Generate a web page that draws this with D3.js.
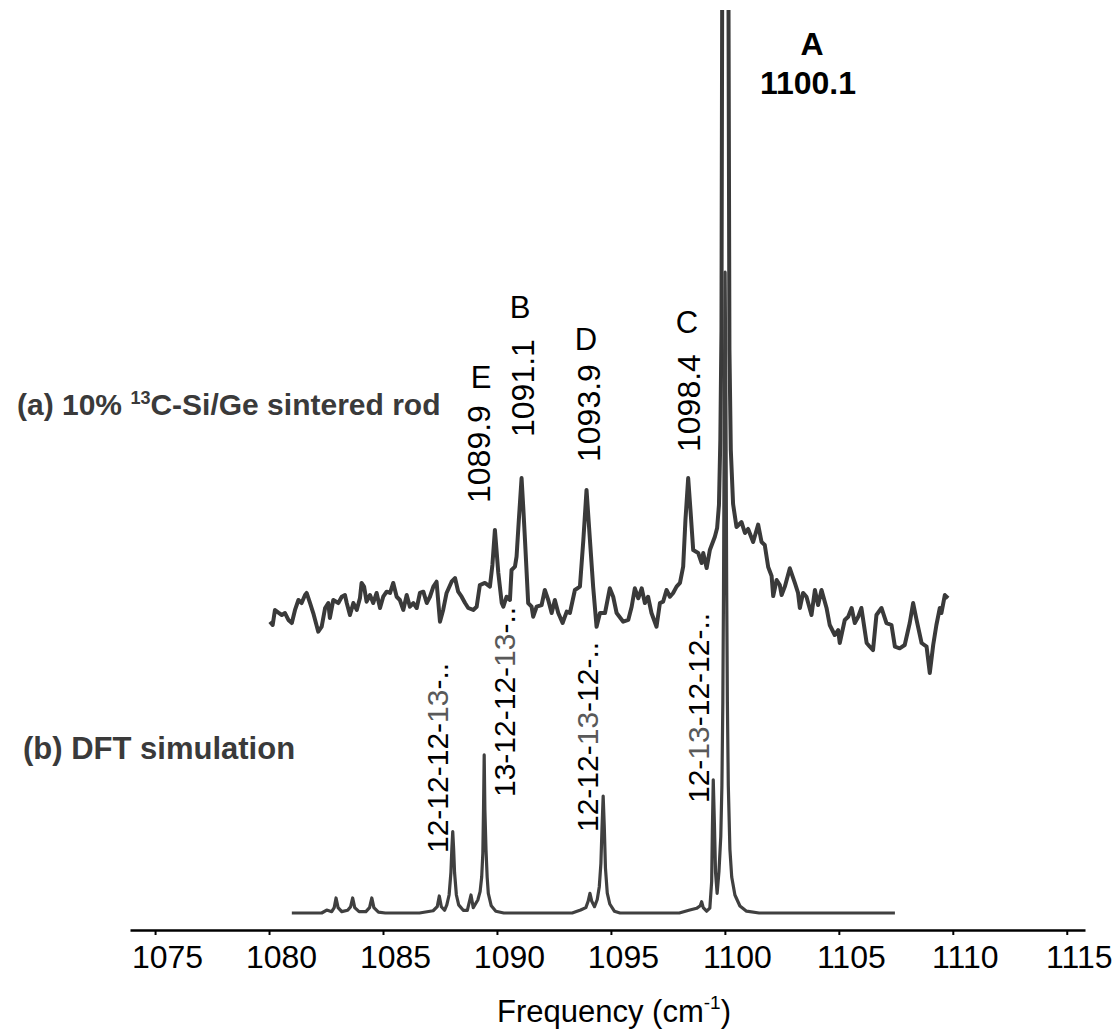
<!DOCTYPE html>
<html><head><meta charset="utf-8">
<script src="https://cdn.jsdelivr.net/npm/d3@7"></script>
<style>body{margin:0;background:#fff} svg{display:block}</style>
</head><body><svg id="chart" width="1113" height="1034"></svg>
<script>
// ---- Data ----
const expFreq = [1080.04,1080.16,1080.26,1080.41,1080.56,1080.70,1080.85,1081.00,1081.14,1081.29,
1081.43,1081.58,1081.65,1081.80,1081.94,1082.16,1082.31,1082.46,1082.60,1082.67,
1082.82,1083.04,1083.19,1083.33,1083.41,1083.55,1083.70,1083.85,1083.99,1084.06,
1084.17,1084.28,1084.43,1084.57,1084.72,1084.87,1085.01,1085.16,1085.31,1085.45,
1085.60,1085.74,1085.89,1086.04,1086.18,1086.33,1086.48,1086.62,1086.77,1086.92,
1087.06,1087.21,1087.35,1087.50,1087.64,1087.79,1088.01,1088.16,1088.30,1088.45,
1088.60,1088.74,1088.96,1089.11,1089.25,1089.47,1089.69,1089.80,1089.91,1090.06,
1090.21,1090.28,1090.42,1090.57,1090.64,1090.79,1090.86,1090.96,1091.08,1091.16,
1091.23,1091.37,1091.52,1091.59,1091.74,1091.96,1092.10,1092.25,1092.40,1092.54,
1092.69,1092.88,1093.06,1093.20,1093.42,1093.64,1093.79,1093.93,1094.08,1094.22,
1094.37,1094.52,1094.74,1094.95,1095.10,1095.25,1095.54,1095.76,1095.91,1096.05,
1096.20,1096.35,1096.49,1096.63,1096.78,1097.00,1097.15,1097.29,1097.44,1097.59,
1097.73,1097.88,1098.03,1098.17,1098.27,1098.39,1098.49,1098.61,1098.83,1098.98,
1099.05,1099.20,1099.34,1099.56,1099.66,1099.74,1099.80,1099.85,1099.88,1099.90,
1100.01,1100.13,1100.16,1100.20,1100.26,1100.36,1100.51,1100.73,1100.88,1101.02,
1101.24,1101.46,1101.61,1101.75,1101.90,1102.05,1102.12,1102.27,1102.41,1102.49,
1102.63,1102.85,1103.07,1103.21,1103.29,1103.43,1103.58,1103.80,1103.95,1104.09,
1104.24,1104.46,1104.60,1104.82,1104.97,1105.04,1105.26,1105.41,1105.56,1105.70,
1105.85,1105.99,1106.22,1106.36,1106.50,1106.65,1106.87,1107.09,1107.31,1107.46,
1107.67,1107.89,1108.11,1108.26,1108.41,1108.63,1108.85,1108.99,1109.14,1109.28,
1109.43,1109.50,1109.65,1109.79];
const expInt = [32.37,32.0,33.67,33.37,33.11,33.33,32.56,32.22,33.67,34.78,
34.44,35.33,35.56,34.44,33.33,31.26,31.81,33.89,34.44,32.78,
34.78,34.44,35.14,35.33,34.44,33.11,34.44,33.67,35.0,36.67,
36.26,34.59,35.33,34.44,35.56,33.89,35.14,35.7,35.56,36.67,
35.14,34.78,33.67,35.33,34.03,34.44,33.89,35.56,35.7,34.44,
35.14,36.26,36.81,32.37,33.67,35.56,36.81,37.22,35.7,35.14,
34.44,33.89,33.67,34.03,36.44,36.67,36.26,38.67,42.56,37.78,
34.44,34.03,35.14,34.78,38.11,38.48,39.59,43.67,48.33,44.78,
41.44,34.44,34.03,32.92,34.03,34.22,35.89,34.78,33.33,34.78,
33.33,32.22,33.48,33.33,35.89,36.26,41.44,47.0,41.44,36.26,
31.81,33.33,33.33,36.08,35.14,33.33,32.37,32.56,34.03,36.08,
34.97,36.08,34.44,35.14,33.33,31.81,34.44,34.59,35.89,35.14,
35.56,36.26,36.67,38.48,43.67,48.33,44.78,40.33,40.0,38.89,
40.0,38.33,40.33,41.81,42.78,45.33,52.56,64.78,100,200,
600,200,100,62.56,51.44,45.44,42.89,43.44,42.22,42.67,
41.22,43.16,41.22,40.89,38.44,37.44,35.22,37.0,36.44,35.33,
36.26,38.3,36.67,35.56,33.89,35.56,35.14,33.11,35.89,34.22,
35.89,33.89,32.0,30.89,31.44,30.0,32.56,32.92,33.89,32.22,
32.92,33.89,30.0,29.59,29.22,33.11,33.89,32.22,32.0,29.59,
29.41,29.78,32.22,34.44,32.56,30.0,29.59,26.67,29.78,32.0,
33.89,33.33,35.33,34.97];

const dftFreq = [1081.00,1082.31,1082.53,1082.75,1082.86,1082.94,1083.03,1083.19,1083.45,1083.58,
1083.67,1083.76,1083.95,1084.25,1084.41,1084.51,1084.60,1084.80,1085.10,1086.60,
1087.20,1087.38,1087.47,1087.56,1087.70,1087.80,1087.90,1087.98,1088.02,1088.06,
1088.10,1088.14,1088.22,1088.32,1088.52,1088.70,1088.86,1088.96,1089.16,1089.26,
1089.33,1089.38,1089.41,1089.44,1089.47,1089.52,1089.57,1089.62,1089.75,1089.95,
1090.30,1093.30,1093.67,1093.90,1094.00,1094.08,1094.16,1094.28,1094.40,1094.49,
1094.56,1094.61,1094.66,1094.71,1094.76,1094.84,1094.95,1095.15,1095.40,1098.00,
1098.46,1098.76,1098.92,1098.98,1099.05,1099.20,1099.34,1099.42,1099.45,1099.49,
1099.54,1099.59,1099.66,1099.74,1099.82,1099.87,1099.91,1099.94,1099.975,1100.01,
1100.045,1100.08,1100.11,1100.15,1100.22,1100.30,1100.44,1100.66,1100.95,1101.50,
1107.46];
const dftInt = [0,0,0.33,0.15,0.6,1.67,0.6,0.15,0.3,0.7,
1.67,0.6,0.15,0.15,0.6,1.67,0.6,0.1,0,0,
0.25,0.7,1.89,0.7,0.3,0.9,2.0,4.5,7.08,9.04,
7.08,4.5,2.0,0.9,0.3,0.3,2.0,0.6,1.44,2.37,
4.0,6.63,11.5,17.56,11.5,7.0,4.0,2.19,0.8,0.2,
0,0,0.33,0.6,1.3,2.19,1.3,0.7,1.5,2.92,
5.5,9.5,13.0,9.5,5.0,2.2,1.0,0.2,0,0,
0.33,0.52,0.8,1.26,0.6,0.2,0.55,3.5,9.0,14.8,
10.0,4.5,2.19,4.6,8.5,14.2,23.4,35.6,57,71.2,
57,35.6,23.4,14.2,7.1,4.0,2.0,0.78,0.2,0,
0];

const tickValues = [1075,1080,1085,1090,1095,1100,1105,1110,1115];

const expPeakNames  = ["E","B","D","C"];
const expPeakFreqs  = [1089.9,1091.1,1093.9,1098.4];
const expPeakLabels = ["1089.9","1091.1","1093.9","1098.4"];

const mainPeakName  = "A";
const mainPeakLabel = "1100.1";

// DFT isotopomer labels: parts [text, isGray]
const dftLabelParts = [
  [["12-12-12-",0],["13",1],["-..",0]],
  [["13-12-12-",0],["13",1],["-..",0]],
  [["12-12-",0],["13",1],["-12-..",0]],
  [["12-",0],["13",1],["-12-12-..",0]]
];
const dftLabelFreqs = [1088.06,1089.44,1094.66,1099.49];

// ---- Layout ----
const svg = d3.select("#chart");
const FONT = "'Liberation Sans', Arial, Helvetica, sans-serif";
const x = d3.scaleLinear().domain([1073.9, 1115.8]).range([130, 1085]);
const y = d3.scaleLinear().domain([0, 100]).range([913, 13]);

svg.append("defs").append("clipPath").attr("id","plotclip")
  .append("rect").attr("x",0).attr("y",10).attr("width",1113).attr("height",1024);

const line = d3.line().x(d => x(d[0])).y(d => y(d[1]));
const g = svg.append("g").attr("clip-path","url(#plotclip)");

g.append("path")
  .datum(expFreq.map((f,i)=>[f,expInt[i]]))
  .attr("d", line).attr("fill","none")
  .attr("stroke","#3a3a3a").attr("stroke-width",4)
  .attr("stroke-linejoin","round");

g.append("path")
  .datum(dftFreq.map((f,i)=>[f,dftInt[i]]))
  .attr("d", line).attr("fill","none")
  .attr("stroke","#404040").attr("stroke-width",3.2)
  .attr("stroke-linejoin","round");

// ---- Axis ----
const axisG = svg.append("g").attr("transform","translate(0,930)")
  .call(d3.axisBottom(x).tickValues(tickValues).tickSize(5).tickSizeOuter(0).tickFormat(d3.format("d")));
axisG.select(".domain").attr("stroke","#000").attr("stroke-width",2.6);
axisG.selectAll(".tick line").attr("stroke","#000").attr("stroke-width",2);
axisG.selectAll(".tick text")
  .attr("y",38).attr("dy",0).attr("dx",12)
  .attr("font-family",FONT).attr("font-size",32).attr("fill","#000");

const title = svg.append("text").attr("x",614).attr("y",1022)
  .attr("text-anchor","middle").attr("font-family",FONT).attr("font-size",31).attr("fill","#000");
title.append("tspan").text("Frequency (cm");
title.append("tspan").attr("font-size",19).attr("dy",-13).text("-1");
title.append("tspan").attr("dy",13).text(")");

// ---- Series labels ----
const la = svg.append("text").attr("x",17).attr("y",415)
  .attr("font-family",FONT).attr("font-weight","bold").attr("font-size",30).attr("fill","#3a3a3a");
la.append("tspan").text("(a) 10% ");
la.append("tspan").attr("font-size",18).attr("dy",-11).text("13");
la.append("tspan").attr("dy",11).text("C-Si/Ge sintered rod");

svg.append("text").attr("x",23).attr("y",759)
  .attr("font-family",FONT).attr("font-weight","bold").attr("font-size",31).attr("fill","#3a3a3a")
  .text("(b) DFT simulation");

// ---- Main peak A ----
svg.append("text").attr("x",812).attr("y",55).attr("text-anchor","middle")
  .attr("font-family",FONT).attr("font-weight","bold").attr("font-size",32).attr("fill","#000")
  .text(mainPeakName);
svg.append("text").attr("x",808).attr("y",94).attr("text-anchor","middle")
  .attr("font-family",FONT).attr("font-weight","bold").attr("font-size",32).attr("fill","#000")
  .text(mainPeakLabel);

// ---- Experimental peak labels ----
const letterDx = [-13.6,-2,0,-1.4], letterY = [388,318,350,333];
const numDx = [-4.6,12,14.2,11.6], numY = [503,437,462,452];
expPeakFreqs.forEach((f,i) => {
  svg.append("text").attr("x", x(f)+letterDx[i]).attr("y", letterY[i])
    .attr("text-anchor","middle").attr("font-family",FONT).attr("font-size",31).attr("fill","#000")
    .text(expPeakNames[i]);
  svg.append("text")
    .attr("transform",`translate(${x(f)+numDx[i]},${numY[i]}) rotate(-90)`)
    .attr("font-family",FONT).attr("font-size",32).attr("fill","#000")
    .text(expPeakLabels[i]);
});

// ---- DFT labels ----
const dftDx = [-4.7,30.8,-5.2,-4.6], dftY = [853,797,832,803];
dftLabelFreqs.forEach((f,i) => {
  const t = svg.append("text")
    .attr("transform",`translate(${x(f)+dftDx[i]},${dftY[i]}) rotate(-90)`)
    .attr("font-family",FONT).attr("font-size",30).attr("fill","#000");
  dftLabelParts[i].forEach(p => {
    t.append("tspan").attr("fill", p[1] ? "#595959" : "#000").text(p[0]);
  });
});
</script>
</body></html>
